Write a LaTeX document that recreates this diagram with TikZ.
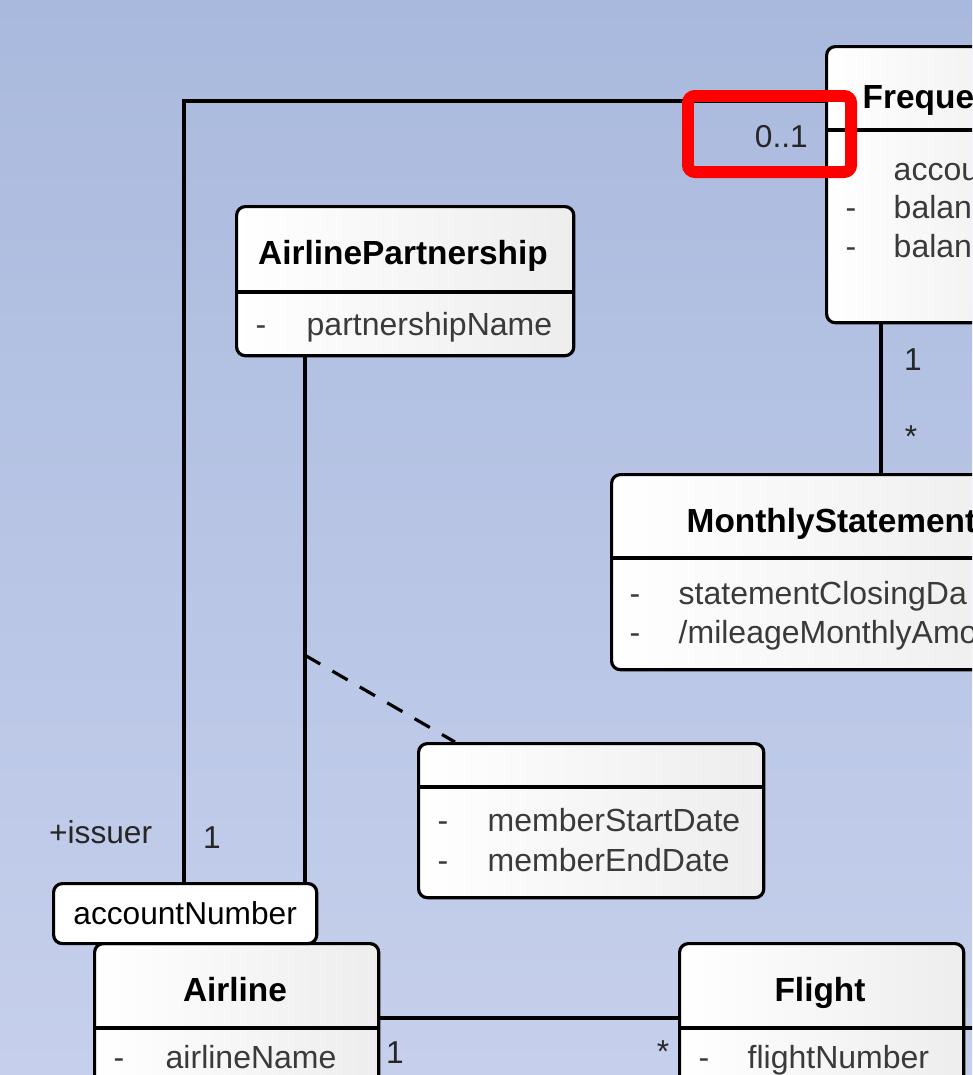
\documentclass[tikz,border=0pt]{standalone}
\usepackage{fontspec}
\setmainfont{Liberation Sans}
\usetikzlibrary{calc}

\definecolor{bgtop}{RGB}{169,185,221}
\definecolor{bgbot}{RGB}{198,208,236}
\definecolor{attrgray}{RGB}{58,58,58}

\tikzset{
  classbox/.style={draw,line width=.9pt,rounded corners=2.5pt,left color=white,right color=gray!14,anchor=north west,inner sep=0pt},
  classname/.style={font=\fontsize{9.5}{11}\selectfont\bfseries,inner sep=0pt,text height=8pt,text depth=1.5pt},
  attr/.style={font=\fontsize{9.1}{11}\selectfont,text=attrgray,anchor=west,inner sep=0pt,text height=7.5pt,text depth=1.5pt},
  mult/.style={font=\fontsize{9}{11}\selectfont,text=black!85,inner sep=1pt,text height=7.5pt,text depth=1.5pt},
  assoc/.style={line width=.9pt},
  divider/.style={line width=.9pt},
}

\begin{document}
\begin{tikzpicture}[x=0.01cm,y=-0.01cm]
  \clip (0,0) rectangle (972,1075);
  \shade[top color=bgtop,bottom color=bgbot] (0,0) rectangle (972,1075);

  % classes
  \node[classbox,minimum width=2.2cm,minimum height=2.76cm] (ff) at (825,45) {};
  \draw[divider] ($(ff.north west)+(0,85)$) -- ($(ff.north east)+(0,85)$);
  \node[classname,anchor=west] (ff-name) at (862,97) {Freque};
  \node[attr] (ff-a1) at (893,170) {accou};
  \node[attr] (ff-d2) at (845,208) {-};
  \node[attr] (ff-a2) at (893,208) {balan};
  \node[attr] (ff-d3) at (845,247) {-};
  \node[attr] (ff-a3) at (893,247) {balan};

  \node[classbox,minimum width=3.37cm,minimum height=1.49cm] (ap) at (235,205) {};
  \draw[divider] ($(ap.north west)+(0,87)$) -- ($(ap.north east)+(0,87)$);
  \node[classname] (ap-name) at (403,253) {AirlinePartnership};
  \node[attr] (ap-d1) at (255,325) {-};
  \node[attr] (ap-a1) at (306,325) {partnershipName};

  \node[classbox,minimum width=4.2cm,minimum height=1.95cm] (ms) at (610,473) {};
  \draw[divider] ($(ms.north west)+(0,85)$) -- ($(ms.north east)+(0,85)$);
  \node[classname,anchor=west] (ms-name) at (686,521) {MonthlyStatement};
  \node[attr] (ms-d1) at (629,594) {-};
  \node[attr] (ms-a1) at (678,594) {statementClosingDa};
  \node[attr] (ms-d2) at (629,633) {-};
  \node[attr] (ms-a2) at (678,633) {/mileageMonthlyAmo};

  \node[classbox,minimum width=3.45cm,minimum height=1.54cm] (ac) at (417,742) {};
  \draw[divider] ($(ac.north west)+(0,45)$) -- ($(ac.north east)+(0,45)$);
  \node[attr] (ac-d1) at (437,821) {-};
  \node[attr] (ac-a1) at (487,821) {memberStartDate};
  \node[attr] (ac-d2) at (437,861) {-};
  \node[attr] (ac-a2) at (487,861) {memberEndDate};

  \node[classbox,minimum width=2.84cm,minimum height=1.6cm] (al) at (93,942) {};
  \draw[divider] ($(al.north west)+(0,86)$) -- ($(al.north east)+(0,86)$);
  \node[classname] (al-name) at (235,990) {Airline};
  \node[attr] (al-d1) at (113,1058) {-};
  \node[attr] (al-a1) at (165,1058) {airlineName};

  \node[classbox,minimum width=2.84cm,minimum height=1.6cm] (fl) at (678,942) {};
  \draw[divider] ($(fl.north west)+(0,86)$) -- ($(fl.north east)+(0,86)$);
  \node[classname] (fl-name) at (820,990) {Flight};
  \node[attr] (fl-d1) at (698,1058) {-};
  \node[attr] (fl-a1) at (747,1058) {flightNumber};

  % qualifier on Airline
  \node[classbox,left color=white,right color=white,minimum width=2.63cm,minimum height=.6cm,
        font=\fontsize{9}{11}\selectfont] (qual) at (52,882) {accountNumber};

  % associations
  \draw[assoc] ($(ff.north west)+(0,56)$) -| ($(qual.north west)+(132,0)$);
  \draw[assoc] ($(ap.south west)+(70,0)$) -- ($(qual.north west)+(253,0)$);
  \coordinate (apmid) at ($(ap.south west)+(70,298)$);
  \draw[assoc,dash pattern=on 5pt off 4pt] (apmid) -- ($(ac.north west)+(38,0)$);
  \coordinate (ffms) at ($(ff.south west)+(56,0)$);
  \draw[assoc] (ffms) -- (ffms |- ms.north);
  \coordinate (alfl) at ($(al.north east)+(0,76)$);
  \draw[assoc] (alfl) -- (alfl -| fl.west);
  \coordinate (flout) at ($(fl.north east)+(40,86)$);
  \draw[assoc] ($(fl.north east)+(0,86)$) -- (flout);

  % multiplicities and roles
  \node[mult,anchor=east] (m-01) at (812,137) {0..1};
  \node[mult] (m-ff1) at (913,360) {1};
  \node[mult] (m-ms) at (911,437) {*};
  \node[mult,anchor=west] (r-issuer) at (45,833) {+issuer};
  \node[mult] (m-al1) at (212,838) {1};
  \node[mult] (m-al2) at (395,1053) {1};
  \node[mult] (m-fl) at (663,1052) {*};

  % highlight
  \node[draw=red,line width=3.4pt,rounded corners=2pt,minimum width=1.63cm,minimum height=.76cm,
        anchor=north west,inner sep=0pt] (hilite) at (682,90) {};
\end{tikzpicture}
\end{document}
